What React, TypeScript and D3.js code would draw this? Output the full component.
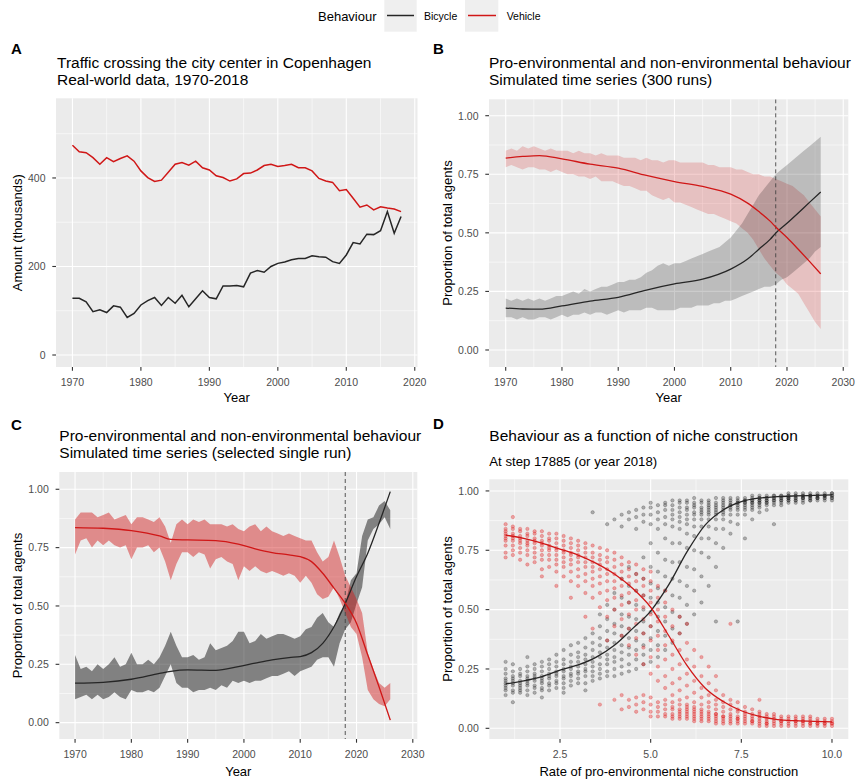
import React from "react";
import * as d3 from "d3";

const FONT = "'Liberation Sans', Arial, Helvetica, sans-serif";
const RED = "#d01717";
const BLACK = "#262626";

// ---------- Panel A: real-world data ----------
const yearsA = d3.range(1970, 2019);
const vehicleA = [474,459,457,446,431,446,437,444,450,438,416,401,392,395,413,431,435,429,438,423,418,405,401,393,398,410,411,418,428,431,426,428,431,423,423,416,399,393,390,371,374,354,334,339,328,335,332,330,324];
const bicycleA = [128,128,120,98,102,96,111,108,85,94,113,123,130,112,130,117,135,109,127,145,130,127,156,156,157,154,185,191,187,200,207,210,215,218,218,224,222,221,211,207,226,254,251,273,272,281,324,275,313];

// ---------- Panel B: 300 runs ----------
const yearsSim = d3.range(1970, 2027);
const bGreyLo = [0.14,0.14,0.13,0.14,0.13,0.13,0.14,0.14,0.13,0.14, 0.15,0.14,0.15,0.15,0.16,0.15,0.16,0.16,0.15,0.16, 0.17,0.16,0.17,0.17,0.17,0.18,0.18,0.17,0.17,0.17, 0.17,0.18,0.18,0.18,0.19,0.19,0.19,0.20,0.20,0.21, 0.21,0.22,0.23,0.24,0.25,0.26,0.27,0.27,0.28,0.30, 0.31,0.33,0.35,0.37,0.39,0.42,0.44];
const bGreyHi = [0.22,0.21,0.22,0.21,0.22,0.21,0.22,0.21,0.22,0.23, 0.23,0.24,0.25,0.24,0.26,0.25,0.26,0.27,0.27,0.28, 0.29,0.29,0.30,0.30,0.31,0.33,0.34,0.36,0.37,0.36, 0.37,0.37,0.38,0.39,0.40,0.41,0.42,0.43,0.44,0.46, 0.48,0.51,0.54,0.58,0.62,0.66,0.69,0.72,0.75,0.77, 0.79,0.81,0.83,0.85,0.87,0.89,0.91];
const bRedLo = [0.78,0.79,0.78,0.77,0.78,0.78,0.77,0.77,0.76,0.77, 0.76,0.75,0.75,0.74,0.74,0.73,0.74,0.72,0.72,0.72, 0.71,0.70,0.70,0.69,0.68,0.68,0.66,0.65,0.64,0.65, 0.63,0.63,0.62,0.61,0.60,0.59,0.58,0.58,0.57,0.56, 0.55,0.54,0.52,0.50,0.47,0.43,0.39,0.36,0.33,0.31, 0.28,0.26,0.24,0.20,0.16,0.12,0.09];
const bRedHi = [0.85,0.86,0.85,0.87,0.86,0.87,0.86,0.85,0.86,0.85, 0.85,0.85,0.84,0.85,0.84,0.84,0.83,0.84,0.83,0.83, 0.83,0.82,0.82,0.82,0.81,0.82,0.81,0.81,0.80,0.81, 0.81,0.80,0.80,0.80,0.80,0.80,0.79,0.79,0.78,0.78, 0.78,0.77,0.77,0.76,0.75,0.75,0.74,0.74,0.73,0.72, 0.71,0.70,0.68,0.66,0.63,0.60,0.57];
const bMeanYears = [1970,1973,1976,1980,1985,1990,1995,2000,2005,2010,2013,2015,2017,2018,2020,2022,2024,2026];
const bMeanRed = [0.819,0.826,0.830,0.816,0.793,0.776,0.745,0.719,0.698,0.665,0.627,0.591,0.55,0.525,0.48,0.43,0.378,0.325];
const bMeanBlack = [0.179,0.175,0.174,0.188,0.209,0.225,0.256,0.282,0.302,0.345,0.388,0.430,0.472,0.499,0.541,0.585,0.63,0.674];

// ---------- Panel C: single run ----------
const cRedHi = [0.87,0.90,0.90,0.90,0.88,0.89,0.90,0.87,0.88,0.89, 0.85,0.88,0.88,0.87,0.86,0.88,0.84,0.77,0.85,0.87, 0.85,0.87,0.86,0.87,0.85,0.85,0.85,0.84,0.85,0.83, 0.82,0.84,0.85,0.82,0.84,0.82,0.81,0.80,0.81,0.80, 0.79,0.78,0.78,0.73,0.69,0.71,0.78,0.71,0.63,0.58, 0.53,0.47,0.30,0.23,0.17,0.15,0.17];
const cRedLo = [0.72,0.78,0.79,0.75,0.78,0.76,0.78,0.76,0.75,0.76, 0.70,0.75,0.75,0.76,0.73,0.75,0.69,0.61,0.68,0.73, 0.73,0.71,0.73,0.72,0.66,0.70,0.71,0.69,0.68,0.61, 0.67,0.65,0.67,0.65,0.64,0.65,0.64,0.63,0.64,0.63, 0.60,0.63,0.60,0.55,0.53,0.54,0.58,0.53,0.47,0.41, 0.38,0.28,0.14,0.10,0.08,0.07,0.10];
const cGreyHi = [0.29,0.23,0.24,0.22,0.25,0.23,0.25,0.28,0.24,0.25, 0.30,0.25,0.25,0.27,0.25,0.28,0.33,0.39,0.33,0.28, 0.28,0.29,0.27,0.28,0.34,0.31,0.32,0.33,0.35,0.39, 0.39,0.34,0.35,0.38,0.36,0.37,0.38,0.38,0.37,0.36, 0.37,0.40,0.41,0.45,0.47,0.43,0.41,0.47,0.51,0.61, 0.64,0.80,0.87,0.88,0.93,0.95,0.91];
const cGreyLo = [0.10,0.11,0.12,0.10,0.12,0.10,0.11,0.13,0.11,0.10, 0.14,0.13,0.13,0.14,0.13,0.15,0.20,0.25,0.17,0.15, 0.15,0.13,0.14,0.14,0.15,0.14,0.16,0.15,0.18,0.17, 0.18,0.17,0.18,0.18,0.19,0.20,0.20,0.21,0.22,0.20, 0.22,0.23,0.24,0.27,0.28,0.28,0.24,0.34,0.40,0.43, 0.51,0.58,0.78,0.83,0.85,0.88,0.83];
const cSmoothYears = [1970,1975,1980,1985,1987,1990,1995,1999,2002,2005,2008,2010,2012,2014,2016,2018,2020,2022,2024,2026];
const cSmoothRed = [0.836,0.833,0.823,0.80,0.785,0.783,0.78,0.765,0.745,0.729,0.719,0.711,0.69,0.64,0.576,0.511,0.426,0.29,0.154,0.011];
const cSmoothBlack = [0.169,0.173,0.186,0.211,0.22,0.226,0.224,0.24,0.255,0.269,0.279,0.283,0.30,0.34,0.411,0.511,0.626,0.726,0.854,0.99];

// ---------- Panel D: niche construction ----------
const dRates = [1.0,1.2,1.4,1.6,1.8,2.0,2.2,2.4,2.6,2.8,3.0,3.2,3.4,3.6,3.8,4.0,4.2,4.4,4.6,4.8,5.0,5.2,5.4,5.6,5.8,6.0,6.2,6.4,6.6,6.8,7.0,7.2,7.4,7.6,7.8,8.0,8.2,8.4,8.6,8.8,9.0,9.2,9.4,9.6,9.8,10.0];
const dBicycle = [
  "14 16 17 18 19 20 21 23 25 28","11 15 16 18 19 20 21 22 24 27","15 16 17 18 19 20 22 23 25","14 16 18 19 20 21 22 24 26 30",
  "15 17 18 20 21 22 23 25 27","16 17 19 20 21 22 24 26 28 13","16 18 19 21 22 23 25 27 29","17 19 20 22 23 24 26 28 31",
  "17 19 21 22 24 25 27 29 33 15","18 20 22 23 25 26 28 31 35","19 21 23 24 26 28 30 32 36","19 22 24 25 27 29 31 34 38 16",
  "20 22 24 26 28 30 33 36 40 91","21 23 25 27 30 32 35 38 43 48","22 24 27 29 31 34 37 41 46 52 86","22 25 28 30 33 36 40 44 50 57 88",
  "23 26 29 32 35 39 43 48 55 63 85 90","24 27 31 34 38 42 47 53 60 68 88 91","25 29 33 37 41 46 52 58 65 84 89 92","27 31 35 40 45 50 56 63 72 87 90 93",
  "28 33 38 43 49 55 61 68 78 86 90 93 95","30 35 41 47 53 59 66 74 84 88 91 94","33 39 45 51 58 64 71 80 86 89 92 94 95","36 42 49 56 63 70 78 85 88 90 92 94 96",
  "40 47 55 62 70 78 84 87 89 91 93 95 96","44 52 60 68 76 82 86 88 90 92 93 95 96","48 58 67 75 81 85 88 90 91 93 94 95 97","53 64 74 80 85 88 90 91 92 93 95 96",
  "60 72 80 85 88 90 91 92 93 94 95 96","45 68 78 84 88 90 91 92 93 94 95 97","76 84 88 90 91 92 93 94 95 96 97","82 87 90 92 93 94 94 95 96 97",
  "45 86 90 92 93 94 95 95 96 97","80 90 92 93 94 95 95 96 96 97","88 92 93 94 95 95 96 96 97 98","91 93 94 95 95 96 96 97 97 98",
  "92 94 95 95 96 96 97 97 98","86 94 95 96 96 97 97 98 98","94 95 96 96 97 97 98 98","95 96 96 97 97 97 98 98 99",
  "95 96 96 97 97 98 98 99","95 96 97 97 97 98 98 99","96 96 97 97 98 98 98 99","96 97 97 97 98 98 99",
  "96 97 97 98 98 98 99","96 97 97 98 98 99 99"
];
const dVehicle = [
  "72 74 77 79 80 81 82 83 84 86","73 75 77 79 80 81 82 84 85 89","71 74 76 78 79 80 81 83 84","69 73 75 77 78 79 81 82 84",
  "70 72 74 76 78 79 80 82 83","67 71 73 75 77 78 79 81 83 64","68 71 73 75 76 77 79 80 82","66 69 71 73 75 76 78 80 82 60",
  "64 68 70 72 74 75 77 79 81","62 66 69 71 73 74 76 78 80 55","60 64 67 70 72 73 75 77 79","57 62 65 68 70 72 74 76 78 47",
  "55 60 63 66 68 70 72 74 77 42","51 57 61 64 67 69 71 73 76 10","47 54 58 62 65 67 70 72 75 37","43 50 55 59 62 65 68 71 74 12",
  "39 46 52 56 60 63 66 69 72 14 8","35 42 48 53 57 61 64 67 70 12 9","31 38 44 50 54 58 62 65 69 13 10 7","27 34 40 46 51 56 60 63 67 14 11 8",
  "23 30 37 43 48 53 58 62 66 13 10 7 5","20 26 33 39 45 50 55 60 11 9 7 5","17 22 29 35 41 47 53 58 12 10 8 6 5","14 19 25 31 37 43 50 11 9 8 6 5 4",
  "12 16 21 27 33 40 47 10 8 7 6 5 4","10 13 18 23 29 36 44 9 8 7 6 5 4","9 11 15 20 26 33 8 7 6 5 4 3","8 10 13 17 22 30 7 6 5 4 3",
  "7 9 11 14 19 26 6 5 4 3","6 8 10 12 16 22 6 5 4 3 2","5 7 9 11 14 5 4 3 2","5 6 8 10 12 4 3 2 44",
  "4 5 7 8 11 4 3 2","4 5 6 7 9 3 2","3 4 5 6 8 3 2","3 4 5 6 7 2 1 12",
  "2 3 4 5 6 2 1","2 3 4 5 6 1","2 3 3 4 5 1","1 2 3 4 5",
  "1 2 3 3 4 5","1 2 3 3 4 5","1 2 2 3 4 5","1 2 2 3 4",
  "1 2 2 3 4","1 2 2 3 4"
];
const dSmoothX = [1,1.5,2,2.5,3,3.5,4,4.5,5,5.5,6,6.5,7,7.5,8,8.5,9,9.5,10];
const dSmoothBlack = [0.187,0.20,0.218,0.245,0.267,0.30,0.35,0.42,0.494,0.605,0.743,0.856,0.92,0.955,0.97,0.976,0.979,0.981,0.983];
const dSmoothRed = [0.814,0.80,0.78,0.755,0.73,0.695,0.65,0.59,0.51,0.39,0.265,0.17,0.113,0.074,0.05,0.037,0.032,0.029,0.027];

const yearTicks = [1970, 1980, 1990, 2000, 2010, 2020];
const yearTicksSim = [1970, 1980, 1990, 2000, 2010, 2020, 2030];
const propTicks = [0, 0.25, 0.5, 0.75, 1];
const propMinor = [0.125, 0.375, 0.625, 0.875];
const rateTicks = [2.5, 5, 7.5, 10];

type Sc = d3.ScaleLinear<number, number>;

const TITLE = 15.5;
const AXT = 13;
const TICK = 10.5;

function Panel(props: {
  id: string; left: number; top: number; right: number; bottom: number;
  xDomain: [number, number]; yDomain: [number, number];
  xMajor: number[]; xMinor: number[]; yMajor: number[]; yMinor: number[];
  fmtX: (v: number) => string; fmtY: (v: number) => string;
  render: (x: Sc, y: Sc) => React.ReactNode;
}) {
  const { id, left, top, right, bottom } = props;
  const x = d3.scaleLinear().domain(props.xDomain).range([left, right]);
  const y = d3.scaleLinear().domain(props.yDomain).range([bottom, top]);
  return (
    <g>
      <defs>
        <clipPath id={id}>
          <rect x={left} y={top} width={right - left} height={bottom - top} />
        </clipPath>
      </defs>
      <rect x={left} y={top} width={right - left} height={bottom - top} fill="#ebebeb" />
      {props.xMinor.map((v) => (
        <line key={"xm" + v} x1={x(v)} x2={x(v)} y1={top} y2={bottom} stroke="#fff" strokeWidth={0.55} />
      ))}
      {props.yMinor.map((v) => (
        <line key={"ym" + v} x1={left} x2={right} y1={y(v)} y2={y(v)} stroke="#fff" strokeWidth={0.55} />
      ))}
      {props.xMajor.map((v) => (
        <line key={"xM" + v} x1={x(v)} x2={x(v)} y1={top} y2={bottom} stroke="#fff" strokeWidth={1.1} />
      ))}
      {props.yMajor.map((v) => (
        <line key={"yM" + v} x1={left} x2={right} y1={y(v)} y2={y(v)} stroke="#fff" strokeWidth={1.1} />
      ))}
      <g clipPath={`url(#${id})`}>{props.render(x, y)}</g>
      {props.xMajor.map((v) => (
        <g key={"xt" + v}>
          <line x1={x(v)} x2={x(v)} y1={bottom} y2={bottom + 3.7} stroke="#333" strokeWidth={1.1} />
          <text x={x(v)} y={bottom + 19} textAnchor="middle" fontSize={TICK} fill="#4d4d4d">{props.fmtX(v)}</text>
        </g>
      ))}
      {props.yMajor.map((v) => (
        <g key={"yt" + v}>
          <line x1={left - 3.7} x2={left} y1={y(v)} y2={y(v)} stroke="#333" strokeWidth={1.1} />
          <text x={left - 10.5} y={y(v) + 3.8} textAnchor="end" fontSize={TICK} fill="#4d4d4d">{props.fmtY(v)}</text>
        </g>
      ))}
    </g>
  );
}

const fmt2 = (v: number) => d3.format(".2f")(v);
const fmtInt = (v: number) => String(v);

export default function App() {
  const lineA = (vals: number[], x: Sc, y: Sc) =>
    d3.line<number>().x((_, i) => x(yearsA[i])).y((d) => y(d))(vals) || "";

  const smooth = (xs: number[], vals: number[], x: Sc, y: Sc) =>
    d3.line<number>().x((_, i) => x(xs[i])).y((d) => y(d)).curve(d3.curveMonotoneX)(vals) || "";

  const band = (lo: number[], hi: number[], x: Sc, y: Sc) =>
    d3.area<number>().x((_, i) => x(yearsSim[i])).y0((_, i) => y(lo[i])).y1((d) => y(d))(hi) || "";

  const vline = (x: Sc, top: number, bottom: number) => (
    <line x1={x(2018)} x2={x(2018)} y1={top} y2={bottom} stroke="#444" strokeWidth={0.9} strokeDasharray="4 3" />
  );

  const dPoints = (cols: string[], color: string, op: number, x: Sc, y: Sc, key: string) =>
    cols.flatMap((s, i) =>
      s.split(" ").map((t, j) => (
        <circle key={key + i + "_" + j} cx={x(dRates[i])} cy={y(Number(t) / 100)} r={1.7}
          fill={color} fillOpacity={op} stroke={color} strokeOpacity={op + 0.12} strokeWidth={0.5} />
      ))
    );

  return (
    <div style={{ position: "absolute", left: 0, top: 0 }}>
      <svg width={855} height={779} style={{ display: "block", fontFamily: FONT }}>
        <rect width={855} height={779} fill="#fff" />

        {/* Legend */}
        <text x={318} y={21} fontSize={13} fill="#000">Behaviour</text>
        <rect x={384.3} y={0} width={32.4} height={31.7} fill="#efefef" />
        <line x1={387} x2={414} y1={15.5} y2={15.5} stroke={BLACK} strokeWidth={1.5} />
        <text x={424} y={20} fontSize={10.5} fill="#000">Bicycle</text>
        <rect x={465} y={0} width={33.3} height={31.7} fill="#efefef" />
        <line x1={468} x2={496} y1={15.5} y2={15.5} stroke={RED} strokeWidth={1.5} />
        <text x={506.7} y={20} fontSize={10.5} fill="#000">Vehicle</text>

        {/* Panel A */}
        <text x={11} y={53.5} fontSize={15} fontWeight="bold">A</text>
        <text x={57} y={68} fontSize={TITLE}>Traffic crossing the city center in Copenhagen</text>
        <text x={57} y={85} fontSize={TITLE}>Real-world data, 1970-2018</text>
        <Panel id="clipA" left={56} top={98.3} right={417.5} bottom={367}
          xDomain={[1967.6, 2020.4]} yDomain={[-27.1, 580]}
          xMajor={yearTicks} xMinor={[1975, 1985, 1995, 2005, 2015]}
          yMajor={[0, 200, 400]} yMinor={[100, 300, 500]}
          fmtX={fmtInt} fmtY={fmtInt}
          render={(x, y) => (
            <g>
              <path d={lineA(bicycleA, x, y)} fill="none" stroke={BLACK} strokeWidth={1.5} />
              <path d={lineA(vehicleA, x, y)} fill="none" stroke={RED} strokeWidth={1.5} />
            </g>
          )} />
        <text x={236.7} y={402} fontSize={AXT} textAnchor="middle">Year</text>
        <text transform="translate(21.5,232.7) rotate(-90)" fontSize={AXT} textAnchor="middle">Amount (thousands)</text>

        {/* Panel B */}
        <text x={433} y={54} fontSize={15} fontWeight="bold">B</text>
        <text x={489} y={68} fontSize={TITLE}>Pro-environmental and non-environmental behaviour</text>
        <text x={489} y={85} fontSize={TITLE}>Simulated time series (300 runs)</text>
        <Panel id="clipB" left={489} top={99.3} right={848.3} bottom={367}
          xDomain={[1967.03, 2030.9]} yDomain={[-0.0726, 1.07]}
          xMajor={yearTicksSim} xMinor={[1975, 1985, 1995, 2005, 2015, 2025]}
          yMajor={propTicks} yMinor={propMinor}
          fmtX={fmtInt} fmtY={fmt2}
          render={(x, y) => (
            <g>
              <path d={band(bRedLo, bRedHi, x, y)} fill={RED} fillOpacity={0.2} />
              <path d={band(bGreyLo, bGreyHi, x, y)} fill="#000" fillOpacity={0.2} />
              {vline(x, 99.3, 367)}
              <path d={smooth(bMeanYears, bMeanBlack, x, y)} fill="none" stroke={BLACK} strokeWidth={1.3} />
              <path d={smooth(bMeanYears, bMeanRed, x, y)} fill="none" stroke={RED} strokeWidth={1.3} />
            </g>
          )} />
        <text x={668.7} y={402} fontSize={AXT} textAnchor="middle">Year</text>
        <text transform="translate(451.5,233) rotate(-90)" fontSize={AXT} textAnchor="middle">Proportion of total agents</text>

        {/* Panel C */}
        <text x={11} y={430} fontSize={15} fontWeight="bold">C</text>
        <text x={59.3} y={441} fontSize={TITLE}>Pro-environmental and non-environmental behaviour</text>
        <text x={59.3} y={458} fontSize={TITLE}>Simulated time series (selected single run)</text>
        <Panel id="clipC" left={59.3} top={472} right={417.3} bottom={739}
          xDomain={[1967.2, 2030.8]} yDomain={[-0.07, 1.074]}
          xMajor={yearTicksSim} xMinor={[1975, 1985, 1995, 2005, 2015, 2025]}
          yMajor={propTicks} yMinor={propMinor}
          fmtX={fmtInt} fmtY={fmt2}
          render={(x, y) => (
            <g>
              <path d={band(cGreyLo, cGreyHi, x, y)} fill="#000" fillOpacity={0.45} />
              <path d={band(cRedLo, cRedHi, x, y)} fill={RED} fillOpacity={0.45} />
              {vline(x, 472, 739)}
              <path d={smooth(cSmoothYears, cSmoothBlack, x, y)} fill="none" stroke={BLACK} strokeWidth={1.3} />
              <path d={smooth(cSmoothYears, cSmoothRed, x, y)} fill="none" stroke={RED} strokeWidth={1.3} />
            </g>
          )} />
        <text x={238.3} y={776} fontSize={AXT} textAnchor="middle">Year</text>
        <text transform="translate(21.5,605.5) rotate(-90)" fontSize={AXT} textAnchor="middle">Proportion of total agents</text>

        {/* Panel D */}
        <text x={433} y={428.5} fontSize={15} fontWeight="bold">D</text>
        <text x={489.3} y={441} fontSize={TITLE}>Behaviour as a function of niche construction</text>
        <text x={489.3} y={465.5} fontSize={13.2}>At step 17885 (or year 2018)</text>
        <Panel id="clipD" left={489.3} top={479.3} right={848.3} bottom={739}
          xDomain={[0.55, 10.45]} yDomain={[-0.045, 1.049]}
          xMajor={rateTicks} xMinor={[1.25, 3.75, 6.25, 8.75]}
          yMajor={propTicks} yMinor={propMinor}
          fmtX={(v) => d3.format(".1f")(v)} fmtY={fmt2}
          render={(x, y) => (
            <g>
              {dPoints(dBicycle, "#1a1a1a", 0.3, x, y, "b")}
              {dPoints(dVehicle, "#e01b1b", 0.36, x, y, "v")}
              <path d={smooth(dSmoothX, dSmoothBlack, x, y)} fill="none" stroke={BLACK} strokeWidth={1.3} />
              <path d={smooth(dSmoothX, dSmoothRed, x, y)} fill="none" stroke={RED} strokeWidth={1.3} />
            </g>
          )} />
        <text x={668.8} y={776} fontSize={AXT} textAnchor="middle">Rate of pro-environmental niche construction</text>
        <text transform="translate(451.5,609) rotate(-90)" fontSize={AXT} textAnchor="middle">Proportion of total agents</text>
      </svg>
    </div>
  );
}
